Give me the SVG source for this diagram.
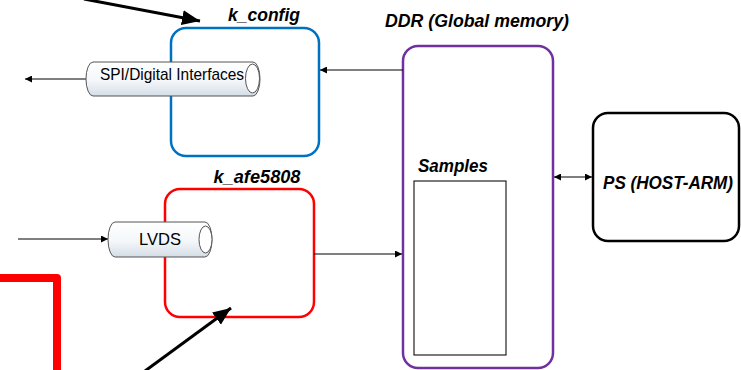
<svg xmlns="http://www.w3.org/2000/svg" width="741" height="370" viewBox="0 0 741 370">
  <style>
    .box { fill: #ffffff; stroke-width: 2.5; }
    .title { font-family: "Liberation Sans", Arial, sans-serif; font-weight: bold; font-style: italic; font-size: 18px; fill: #000; }
    .pipe-text { font-family: "Liberation Sans", Arial, sans-serif; font-size: 17px; fill: #000; }
    .pipe { fill: url(#pipeFill); stroke: #555; stroke-width: 1; }
    .cap { fill: #ffffff; stroke: #555; stroke-width: 1; }
    .thin { stroke: #000; stroke-width: 1; fill: none; }
    .thick { stroke: #000; stroke-width: 3; fill: none; }
  </style>
  <defs>
    <linearGradient id="pipeFill" x1="0" y1="0" x2="0" y2="1">
      <stop offset="0" stop-color="#ffffff"/>
      <stop offset="0.55" stop-color="#f4f7fa"/>
      <stop offset="1" stop-color="#d4dde6"/>
    </linearGradient>
    <marker id="small" viewBox="0 0 10 10" refX="10" refY="5" markerWidth="7" markerHeight="7" markerUnits="userSpaceOnUse" orient="auto-start-reverse">
      <path d="M0,0 L10,5 L0,10 Z" fill="#000"/>
    </marker>
    <marker id="big" viewBox="0 0 10 10" refX="10" refY="5" markerWidth="6" markerHeight="5" orient="auto" preserveAspectRatio="none">
      <path d="M0,0 L10,5 L0,10 Z" fill="#000"/>
    </marker>
  </defs>

  <!-- heavy red frame edge -->
  <path d="M0,278 H57 V372" fill="none" stroke="#ff0000" stroke-width="8" stroke-linejoin="round"/>

  <!-- k_config kernel -->
  <g id="k_config">
    <rect class="box" x="171" y="28" width="148" height="128" rx="15" stroke="#0070c0"/>
    <text class="title" x="264" y="21" text-anchor="middle" textLength="72" lengthAdjust="spacingAndGlyphs">k_config</text>
  </g>

  <!-- k_afe5808 kernel -->
  <g id="k_afe5808">
    <rect class="box" x="165" y="189" width="149" height="128" rx="15" stroke="#ff0000"/>
    <text class="title" x="257" y="183" text-anchor="middle" textLength="87" lengthAdjust="spacingAndGlyphs">k_afe5808</text>
  </g>

  <!-- DDR global memory with sample buffer -->
  <g id="ddr">
    <rect class="box" x="403" y="46" width="150" height="322" rx="15" stroke="#7030a0"/>
    <text class="title" x="477" y="27" text-anchor="middle" textLength="184" lengthAdjust="spacingAndGlyphs">DDR (Global memory)</text>
    <text class="title" x="418" y="172" textLength="70" lengthAdjust="spacingAndGlyphs">Samples</text>
    <rect x="414" y="181" width="92" height="174" fill="#ffffff" stroke="#222" stroke-width="1.2"/>
  </g>

  <!-- processing system -->
  <g id="ps">
    <rect class="box" x="593" y="113" width="146" height="128" rx="15" stroke="#000"/>
    <text class="title" x="668" y="189" text-anchor="middle" textLength="130" lengthAdjust="spacingAndGlyphs">PS (HOST-ARM)</text>
  </g>

  <!-- connectors -->
  <g id="connectors">
    <line class="thin" x1="403" y1="70" x2="320" y2="70" marker-end="url(#small)"/>
    <line class="thin" x1="314" y1="254" x2="402" y2="254" marker-end="url(#small)"/>
    <line class="thin" x1="554" y1="177" x2="592" y2="177" marker-start="url(#small)" marker-end="url(#small)"/>
    <line class="thin" x1="86" y1="79" x2="25" y2="79" marker-end="url(#small)"/>
    <line class="thin" x1="18" y1="239" x2="108" y2="239" marker-end="url(#small)"/>
    <line class="thick" x1="84" y1="-1" x2="200" y2="21" marker-end="url(#big)"/>
    <line class="thick" x1="145" y1="371" x2="231" y2="308" marker-end="url(#big)"/>
  </g>

  <!-- SPI / digital interface pipe -->
  <g id="spi_pipe">
    <path class="pipe" d="M93,62 H253 A7,17 0 0 1 253,96 H93 A7,17 0 0 1 93,62 Z"/>
    <ellipse class="cap" cx="252.5" cy="78.5" rx="7" ry="14.5"/>
    <text class="pipe-text" x="100" y="80" textLength="144" lengthAdjust="spacingAndGlyphs">SPI/Digital Interfaces</text>
  </g>

  <!-- LVDS pipe -->
  <g id="lvds_pipe">
    <path class="pipe" d="M115,222 H205 A7,17.5 0 0 1 205,257 H115 A7,17.5 0 0 1 115,222 Z"/>
    <ellipse class="cap" cx="205.5" cy="239.5" rx="6.5" ry="13.5"/>
    <text class="pipe-text" x="160" y="245" text-anchor="middle" textLength="42" lengthAdjust="spacingAndGlyphs">LVDS</text>
  </g>
</svg>
